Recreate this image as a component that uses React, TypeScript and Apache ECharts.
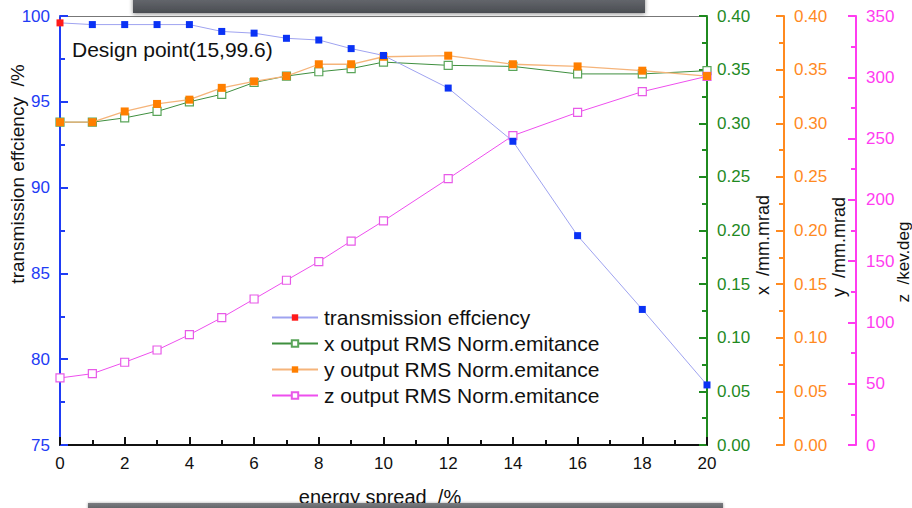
import React, { useEffect, useRef } from "react";
import * as echarts from "echarts";

const energySpread = [0, 1, 2, 3, 4, 5, 6, 7, 8, 9, 10, 12, 14, 16, 18, 20];
const transmission = [99.6, 99.5, 99.5, 99.5, 99.5, 99.1, 99.0, 98.7, 98.6, 98.1, 97.7, 95.8, 92.7, 87.2, 82.9, 78.5];
const xEmittance = [0.301, 0.301, 0.305, 0.311, 0.320, 0.327, 0.338, 0.344, 0.348, 0.351, 0.357, 0.354, 0.353, 0.346, 0.346, 0.349];
const yEmittance = [0.301, 0.301, 0.311, 0.318, 0.322, 0.333, 0.339, 0.344, 0.355, 0.355, 0.362, 0.363, 0.355, 0.353, 0.349, 0.344];
const zEmittance = [54.7, 58.2, 67.5, 77.5, 90.0, 103.9, 119.1, 134.4, 149.6, 166.4, 182.8, 217.3, 252.4, 271.4, 288.3, 300.8];

const seriesNames = [
  "transmission effciency",
  "x output RMS Norm.emitance",
  "y output RMS Norm.emitance",
  "z output RMS Norm.emitance",
];

const FONT = "'Liberation Sans', Arial, sans-serif";

function pairs(vals: number[]) {
  return energySpread.map((x, i) => [x, vals[i]]);
}

export default function App() {
  const ref = useRef<HTMLDivElement>(null);
  useEffect(() => {
    if (!ref.current) return;
    const chart = echarts.init(ref.current, null, { renderer: "svg" });

    const yAxisBase = (color: string, min: number, max: number, interval: number, pos: string, offset: number, digits: number) => ({
      type: "value",
      position: pos,
      offset,
      min,
      max,
      interval,
      axisLine: { show: true, onZero: false, lineStyle: { color, width: 2 } },
      axisTick: { show: true, inside: true, length: 8, lineStyle: { color, width: 2 } },
      minorTick: { show: true, splitNumber: 2, length: 5, lineStyle: { color, width: 2 } },
      splitLine: { show: false },
      axisLabel: {
        color,
        fontSize: 17,
        fontFamily: FONT,
        margin: 10,
        formatter: (v: number) => v.toFixed(digits),
      },
    });

    const transData = pairs(transmission).map((p, i) =>
      i === 0 ? { value: p } : { value: p, itemStyle: { color: "#0a32f5" } }
    );

    chart.setOption({
      animation: false,
      backgroundColor: "#ffffff",
      grid: { left: 60, right: 205, top: 16, bottom: 63 },
      xAxis: [
        {
          type: "value",
          min: 0,
          max: 20,
          interval: 2,
          axisLine: { show: true, onZero: false, lineStyle: { color: "#111", width: 2 } },
          axisTick: { show: true, inside: true, length: 8, lineStyle: { color: "#111", width: 2 } },
          minorTick: { show: true, splitNumber: 2, length: 5, lineStyle: { color: "#111", width: 2 } },
          splitLine: { show: false },
          axisLabel: { color: "#111", fontSize: 17, fontFamily: FONT, margin: 10 },
        },
        {
          type: "value",
          position: "top",
          min: 0,
          max: 20,
          axisLine: { show: true, onZero: false, lineStyle: { color: "#777", width: 1 } },
          axisTick: { show: false },
          axisLabel: { show: false },
          splitLine: { show: false },
        },
      ],
      yAxis: [
        yAxisBase("#1f3cf5", 75, 100, 5, "left", 0, 0),
        yAxisBase("#1f8a1f", 0, 0.4, 0.05, "right", 0, 2),
        yAxisBase("#ff8a1f", 0, 0.4, 0.05, "right", 77, 2),
        yAxisBase("#ff3cf0", 0, 350, 50, "right", 149, 0),
      ],
      legend: {
        orient: "vertical",
        left: 266,
        top: 302,
        itemWidth: 46,
        itemHeight: 8,
        itemGap: 5,
        textStyle: { color: "#111", fontSize: 21, fontFamily: FONT, padding: [0, 0, 0, 1] },
        data: seriesNames,
      },
      series: [
        {
          name: seriesNames[0],
          type: "line",
          xAxisIndex: 0,
          yAxisIndex: 0,
          data: transData,
          symbol: "rect",
          symbolSize: 7,
          lineStyle: { color: "#9fa3f0", width: 1 },
          itemStyle: { color: "#ff1a1a" },
          z: 4,
        },
        {
          name: seriesNames[1],
          type: "line",
          yAxisIndex: 1,
          data: pairs(xEmittance),
          symbol: "rect",
          symbolSize: 8,
          lineStyle: { color: "#3f8f3f", width: 1 },
          itemStyle: { color: "#ffffff", borderColor: "#5aa55a", borderWidth: 1.2 },
          z: 2,
        },
        {
          name: seriesNames[2],
          type: "line",
          yAxisIndex: 2,
          data: pairs(yEmittance),
          symbol: "rect",
          symbolSize: 8,
          lineStyle: { color: "#f5b47a", width: 1.3 },
          itemStyle: { color: "#ff7f00" },
          z: 3,
        },
        {
          name: seriesNames[3],
          type: "line",
          yAxisIndex: 3,
          data: pairs(zEmittance),
          symbol: "rect",
          symbolSize: 8,
          lineStyle: { color: "#ee4fee", width: 1 },
          itemStyle: { color: "#ffffff", borderColor: "#e85ae8", borderWidth: 1.2 },
          z: 2,
        },
      ],
      graphic: [
        {
          type: "text",
          left: 72,
          top: 39,
          style: { text: "Design point(15,99.6)", font: `21px ${FONT}`, fill: "#111" },
        },
        {
          type: "text",
          x: 17,
          y: 174,
          rotation: Math.PI / 2,
          style: { text: "transmission effciency  /%", font: `19px ${FONT}`, fill: "#111", align: "center", verticalAlign: "middle" },
        },
        {
          type: "text",
          x: 763,
          y: 245,
          rotation: Math.PI / 2,
          style: { text: "x  /mm.mrad", font: `18px ${FONT}`, fill: "#111", align: "center", verticalAlign: "middle" },
        },
        {
          type: "text",
          x: 839,
          y: 247,
          rotation: Math.PI / 2,
          style: { text: "y  /mm.mrad", font: `18px ${FONT}`, fill: "#111", align: "center", verticalAlign: "middle" },
        },
        {
          type: "text",
          x: 903,
          y: 262,
          rotation: Math.PI / 2,
          style: { text: "z  /kev.deg", font: `17px ${FONT}`, fill: "#111", align: "center", verticalAlign: "middle" },
        },
        {
          type: "text",
          x: 380,
          y: 497,
          style: { text: "energy spread  /%", font: `20px ${FONT}`, fill: "#111", align: "center", verticalAlign: "middle" },
        },
        {
          type: "rect",
          shape: { x: 133, y: -4, width: 512, height: 17 },
          style: {
            fill: new echarts.graphic.LinearGradient(0, 0, 0, 1, [
              { offset: 0, color: "#6a6d73" },
              { offset: 1, color: "#4a4d52" },
            ]),
            shadowBlur: 4,
            shadowOffsetY: 1,
            shadowColor: "rgba(0,0,0,0.45)",
          },
          z: 100,
        },
        {
          type: "rect",
          shape: { x: 88, y: 503, width: 635, height: 8 },
          style: {
            fill: new echarts.graphic.LinearGradient(0, 0, 0, 1, [
              { offset: 0, color: "#7a7c80" },
              { offset: 1, color: "#55575b" },
            ]),
            shadowBlur: 3,
            shadowColor: "rgba(0,0,0,0.35)",
          },
          z: 100,
        },
      ],
    });
    return () => chart.dispose();
  }, []);

  return (
    <div
      ref={ref}
      style={{ position: "fixed", left: 0, top: 0, width: 912, height: 508, background: "#fff" }}
    />
  );
}
